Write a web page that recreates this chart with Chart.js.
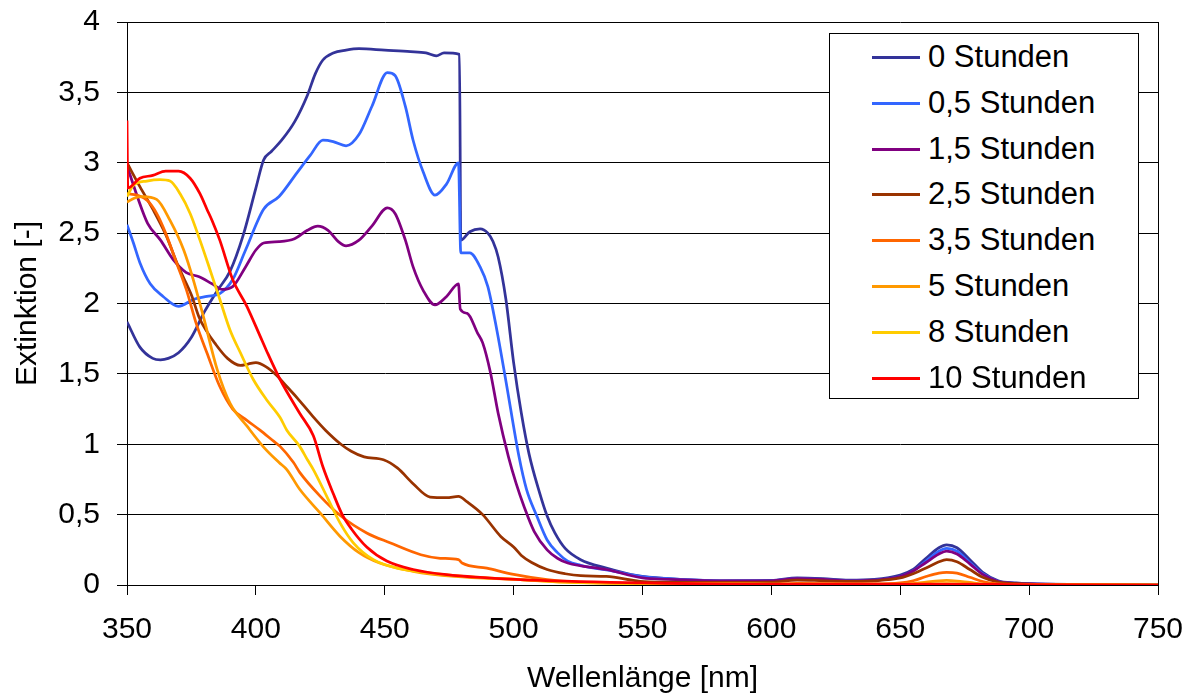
<!DOCTYPE html>
<html lang="de">
<head>
<meta charset="utf-8">
<title>Extinktion</title>
<script src="https://cdn.jsdelivr.net/npm/chart.js@4.4.1/dist/chart.umd.min.js"></script>
<style>
  html, body { margin: 0; padding: 0; background: #fff; }
  #wrap { position: relative; width: 1197px; height: 697px; font-family: "Liberation Sans", Arial, sans-serif; }
  #legende { position: absolute; left: 829px; top: 33px; width: 308px; height: 364px; border: 1px solid #000; background: #fff; }
  .eintrag { position: relative; height: 45.8px; line-height: 45.8px; font-size: 31px; color: #000; white-space: nowrap; }
  .eintrag span.linie { position: absolute; left: 42px; top: 22px; width: 48px; height: 3px; }
  .eintrag span.text { position: absolute; left: 98px; top: 0; }
</style>
</head>
<body>
<div id="wrap">
  <canvas id="chart" width="1197" height="697"></canvas>
  <div id="legende"></div>
</div>
<script>
// Wellenlängen [nm] und Extinktion je Bestrahlungsdauer
const nm_0 = [350, 355, 360, 363, 366, 370, 375, 380, 385, 390, 395, 400, 403, 406, 410, 415, 420, 423, 426, 430, 435, 440, 450, 460, 466, 470, 473, 479, 479.5, 483, 487, 490, 492, 494, 497, 500, 503, 506, 510, 513, 516, 520, 526, 536, 548, 560, 580, 600, 610, 620, 630, 640, 650, 655, 660, 665, 668, 672, 677, 682, 688, 695, 700, 720, 750];
const ext_0 = [1.87, 1.69, 1.61, 1.60, 1.61, 1.65, 1.76, 1.94, 2.09, 2.23, 2.48, 2.82, 3.02, 3.08, 3.16, 3.29, 3.48, 3.63, 3.73, 3.78, 3.80, 3.81, 3.80, 3.79, 3.78, 3.76, 3.78, 3.77, 2.45, 2.51, 2.53, 2.50, 2.44, 2.33, 2.03, 1.58, 1.22, 0.93, 0.66, 0.49, 0.37, 0.26, 0.18, 0.12, 0.066, 0.045, 0.03, 0.032, 0.05, 0.045, 0.035, 0.04, 0.07, 0.11, 0.19, 0.265, 0.285, 0.265, 0.18, 0.09, 0.03, 0.015, 0.01, 0.004, 0];

const nm_05 = [350, 352.5, 355, 359, 364, 370, 376, 381, 386, 391, 396, 403, 409, 416, 421, 426, 430, 435, 440, 445, 451, 454, 458, 461, 465, 469.5, 474, 478.6, 479.5, 483, 487, 490, 493.5, 497, 502, 505, 509, 513, 517, 521, 526, 539, 550, 560, 580, 600, 610, 620, 630, 640, 650, 655, 660, 665, 668, 672, 677, 682, 688, 695, 700, 720, 750];
const ext_05 = [2.56, 2.43, 2.29, 2.14, 2.05, 1.98, 2.03, 2.05, 2.07, 2.17, 2.38, 2.67, 2.76, 2.93, 3.05, 3.16, 3.15, 3.12, 3.20, 3.40, 3.64, 3.62, 3.40, 3.16, 2.93, 2.77, 2.85, 3.00, 2.36, 2.36, 2.26, 2.12, 1.81, 1.45, 0.92, 0.68, 0.49, 0.32, 0.23, 0.17, 0.14, 0.097, 0.06, 0.045, 0.03, 0.03, 0.045, 0.04, 0.03, 0.035, 0.06, 0.10, 0.17, 0.24, 0.26, 0.24, 0.16, 0.08, 0.025, 0.012, 0.008, 0.003, 0];

const nm_15 = [350, 354, 358, 363, 368, 373, 378, 383, 387, 391, 396, 400, 403, 409, 415, 420, 424, 428, 432, 435, 440, 445, 451, 454, 458, 461, 465, 469.5, 474, 478.6, 479.3, 482, 486, 488, 491, 494, 498, 501, 504, 508, 513, 517, 521, 536, 550, 560, 580, 600, 610, 620, 630, 640, 650, 655, 660, 665, 668, 672, 677, 682, 688, 695, 700, 720, 750];
const ext_15 = [2.98, 2.76, 2.57, 2.45, 2.31, 2.22, 2.19, 2.14, 2.10, 2.12, 2.26, 2.38, 2.43, 2.44, 2.46, 2.52, 2.55, 2.52, 2.44, 2.41, 2.45, 2.55, 2.68, 2.64, 2.45, 2.26, 2.09, 1.99, 2.05, 2.14, 1.96, 1.93, 1.79, 1.72, 1.51, 1.22, 0.91, 0.72, 0.56, 0.38, 0.25, 0.19, 0.156, 0.11, 0.05, 0.04, 0.03, 0.03, 0.045, 0.04, 0.03, 0.035, 0.06, 0.10, 0.16, 0.22, 0.24, 0.22, 0.15, 0.075, 0.025, 0.012, 0.008, 0.003, 0];

const nm_25 = [350, 355, 360, 365, 370, 375, 378, 381, 384, 389, 394, 397, 400, 404, 408, 412, 416, 422, 427, 433, 437, 442, 449.5, 455, 461, 467.6, 474, 478.6, 482, 488, 495, 500, 503, 507, 513, 520, 526, 536, 549, 560, 580, 600, 610, 620, 630, 640, 650, 655, 660, 665, 668, 672, 677, 682, 688, 695, 700, 720, 750];
const ext_25 = [3.00, 2.83, 2.67, 2.49, 2.26, 2.06, 1.90, 1.80, 1.72, 1.61, 1.56, 1.57, 1.58, 1.55, 1.49, 1.41, 1.33, 1.20, 1.10, 1.00, 0.95, 0.91, 0.89, 0.83, 0.72, 0.625, 0.62, 0.63, 0.59, 0.50, 0.345, 0.27, 0.21, 0.16, 0.11, 0.08, 0.066, 0.061, 0.026, 0.02, 0.018, 0.02, 0.035, 0.03, 0.025, 0.03, 0.05, 0.08, 0.12, 0.165, 0.18, 0.165, 0.11, 0.055, 0.02, 0.01, 0.006, 0.002, 0];

const nm_35 = [350, 354, 358, 361.5, 365, 369, 373, 377, 381, 386, 391, 396.5, 401.6, 407, 409.4, 414.6, 417, 425, 433, 443, 452, 464, 471.5, 478.6, 480, 489.6, 500, 513, 526, 550, 600, 610, 640, 650, 655, 660, 665, 668, 672, 677, 682, 688, 700, 750];
const ext_35 = [2.78, 2.77, 2.73, 2.64, 2.50, 2.30, 2.10, 1.85, 1.65, 1.41, 1.25, 1.17, 1.10, 1.02, 0.985, 0.87, 0.80, 0.63, 0.49, 0.37, 0.30, 0.215, 0.19, 0.18, 0.156, 0.12, 0.075, 0.038, 0.02, 0.01, 0.008, 0.012, 0.008, 0.015, 0.03, 0.06, 0.085, 0.09, 0.085, 0.055, 0.025, 0.008, 0.003, 0];

const nm_5 = [350, 353, 356, 361.5, 366.7, 372, 375.7, 379.6, 385, 390, 396.5, 403, 409, 412, 417, 425, 432.7, 440, 448, 461, 477, 502.6, 520, 550, 600, 640, 655, 660, 665, 668, 672, 677, 684, 700, 750];
const ext_5 = [2.72, 2.75, 2.76, 2.74, 2.59, 2.38, 2.17, 1.91, 1.53, 1.29, 1.13, 0.98, 0.87, 0.82, 0.68, 0.51, 0.345, 0.23, 0.156, 0.097, 0.061, 0.038, 0.02, 0.01, 0.005, 0.004, 0.01, 0.02, 0.03, 0.032, 0.028, 0.018, 0.006, 0.002, 0];

const nm_8 = [350, 352.5, 357.7, 362.8, 366.7, 370.6, 374.5, 378.3, 382.2, 386, 390, 394, 399, 404, 409.4, 412, 417, 420, 422.3, 427.5, 432.7, 437.8, 445.6, 454.7, 467.6, 480.6, 502.6, 520, 550, 600, 660, 668, 676, 700, 750];
const ext_8 = [2.76, 2.84, 2.87, 2.88, 2.87, 2.78, 2.64, 2.45, 2.24, 2.03, 1.81, 1.65, 1.46, 1.32, 1.19, 1.10, 0.985, 0.89, 0.82, 0.63, 0.44, 0.30, 0.18, 0.12, 0.085, 0.061, 0.038, 0.02, 0.01, 0.004, 0.006, 0.01, 0.005, 0.001, 0];

const nm_10 = [350, 350.3, 355, 360, 365, 370, 374.5, 378.3, 381, 383, 386, 391, 396.5, 401.6, 404, 409.4, 417, 422.3, 426, 430, 433.5, 437, 443, 450.8, 461, 474, 502.6, 550, 600, 668, 700, 750];
const ext_10 = [3.30, 2.82, 2.89, 2.91, 2.94, 2.94, 2.89, 2.78, 2.67, 2.59, 2.45, 2.17, 1.98, 1.77, 1.67, 1.46, 1.22, 1.06, 0.84, 0.65, 0.50, 0.40, 0.27, 0.17, 0.11, 0.073, 0.038, 0.015, 0.005, 0.006, 0.002, 0];

const serienNamen = ['0 Stunden', '0,5 Stunden', '1,5 Stunden', '2,5 Stunden', '3,5 Stunden', '5 Stunden', '8 Stunden', '10 Stunden'];
const serienFarben = ['#333399', '#3366FF', '#800080', '#993300', '#FF6600', '#FF9900', '#FFCC00', '#FF0000'];
const serienX = [nm_0, nm_05, nm_15, nm_25, nm_35, nm_5, nm_8, nm_10];
const serienY = [ext_0, ext_05, ext_15, ext_25, ext_35, ext_5, ext_8, ext_10];

const xTicks = [350, 400, 450, 500, 550, 600, 650, 700, 750];
const yTicks = [0, 0.5, 1, 1.5, 2, 2.5, 3, 3.5, 4];

const schrift = { family: '"Liberation Sans", Arial, sans-serif', size: 30 };

// Datensätze aufbauen (später gezeichnete Serien liegen oben, wie in Excel)
const datasets = serienNamen.map((name, i) => ({
    label: name,
    data: serienX[i].map((x, k) => ({ x: x, y: serienY[i][k] })),
    borderColor: serienFarben[i],
    backgroundColor: serienFarben[i],
    borderWidth: 2.75,
    pointRadius: 0,
    fill: false,
    cubicInterpolationMode: 'monotone',
    order: serienNamen.length - i
}));

// rechter Rahmen des Diagrammbereichs
const rahmenPlugin = {
    id: 'rahmen',
    beforeDatasetsDraw(chart) {
        const { ctx, chartArea } = chart;
        const x = Math.round(chartArea.right) + 0.5;
        ctx.save();
        ctx.strokeStyle = '#000';
        ctx.lineWidth = 1;
        ctx.beginPath();
        ctx.moveTo(x, chartArea.top);
        ctx.lineTo(x, chartArea.bottom);
        ctx.stroke();
        ctx.restore();
    }
};

const ctx = document.getElementById('chart').getContext('2d');
new Chart(ctx, {
    type: 'line',
    data: { datasets: datasets },
    plugins: [rahmenPlugin],
    options: {
        responsive: false,
        animation: false,
        events: [],
        layout: { padding: { top: 22, right: 39, left: 0, bottom: 0 } },
        plugins: {
            legend: { display: false },
            tooltip: { enabled: false }
        },
        scales: {
            x: {
                type: 'linear',
                min: xTicks[0],
                max: xTicks[xTicks.length - 1],
                afterBuildTicks: (scale) => { scale.ticks = xTicks.map(v => ({ value: v })); },
                afterFit: (scale) => {
                    scale.height = 112;
                    scale.paddingLeft = 0;
                    scale.paddingRight = 0;
                },
                ticks: { color: '#000', font: schrift, padding: 17, maxRotation: 0 },
                grid: { drawOnChartArea: false, color: '#000', tickLength: 10, lineWidth: 1 },
                border: { color: '#000', width: 1 },
                title: { display: true, text: 'Wellenlänge [nm]', color: '#000', font: schrift, padding: { top: 0, bottom: 0 } }
            },
            y: {
                min: yTicks[0],
                max: yTicks[yTicks.length - 1],
                afterBuildTicks: (scale) => { scale.ticks = yTicks.map(v => ({ value: v })); },
                afterFit: (scale) => {
                    scale.width = 127;
                    scale.paddingTop = 0;
                    scale.paddingBottom = 0;
                },
                ticks: {
                    color: '#000',
                    font: schrift,
                    padding: 17,
                    callback: (v) => String(v).replace('.', ',')
                },
                grid: { color: '#000', tickLength: 10, lineWidth: 1 },
                border: { color: '#000', width: 1 },
                title: { display: true, text: 'Extinktion [-]', color: '#000', font: schrift, padding: { top: 10, bottom: 0 } }
            }
        }
    }
});

// Legende als HTML im Diagramm
const legende = document.getElementById('legende');
serienNamen.forEach((name, i) => {
    const zeile = document.createElement('div');
    zeile.className = 'eintrag';
    const linie = document.createElement('span');
    linie.className = 'linie';
    linie.style.background = serienFarben[i];
    const text = document.createElement('span');
    text.className = 'text';
    text.textContent = name;
    zeile.appendChild(linie);
    zeile.appendChild(text);
    legende.appendChild(zeile);
});
</script>
</body>
</html>
